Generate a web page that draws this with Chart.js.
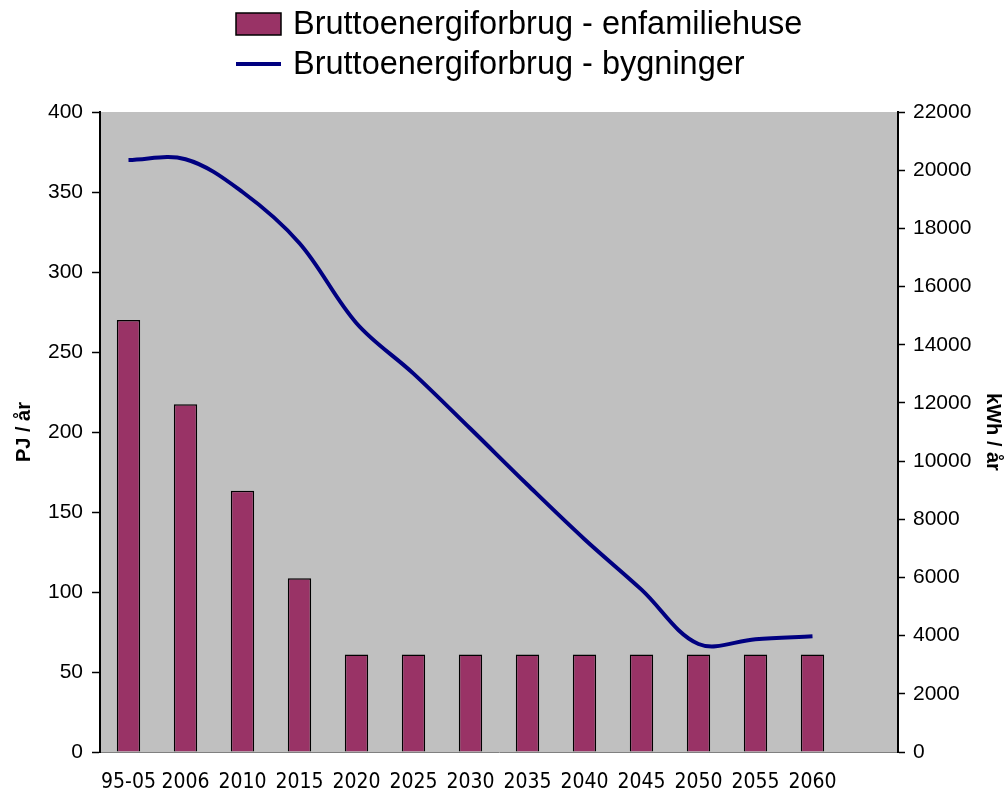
<!DOCTYPE html>
<html>
<head>
<meta charset="utf-8">
<script src="https://cdn.jsdelivr.net/npm/chart.js@4/dist/chart.umd.min.js"></script>
<style>
  html, body { margin: 0; padding: 0; background: #fff; }
  #wrap { width: 1008px; height: 798px; }
</style>
</head>
<body>
<div id="wrap"><canvas id="energyChart" width="1008" height="798"></canvas></div>
<script>
const years = ['95-05', '2006', '2010', '2015', '2020', '2025', '2030', '2035', '2040', '2045', '2050', '2055', '2060', ''];
// kWh / år (right axis)
const enfamiliehuse = [14850, 11950, 8980, 5970, 3350, 3350, 3350, 3350, 3350, 3350, 3350, 3350, 3350, null];
// PJ / år (left axis)
const bygninger = [370, 370.5, 350, 318, 268, 236.5, 202, 167, 133, 101.5, 67.5, 70.5, 72.3, null];
const pjTicks = { min: 0, max: 400, step: 50 };
const kwhTicks = { min: 0, max: 22000, step: 2000 };

const FONT = "'Liberation Sans', Arial, sans-serif";
const NARROW = "'DejaVu Sans Condensed', 'Liberation Sans', sans-serif";
const BAR_COLOR = '#993366';
const LINE_COLOR = '#000080';

// grey plot area like the old Excel chart
const plotBackground = {
    id: 'plotBackground',
    beforeDraw(chart) {
        const a = chart.chartArea;
        const ctx = chart.ctx;
        ctx.save();
        ctx.fillStyle = '#c0c0c0';
        ctx.fillRect(a.left, a.top, a.right - a.left, a.bottom - a.top);
        ctx.restore();
    }
};

// two-row legend, left aligned inside a centred block
const stackedLegend = {
    id: 'stackedLegend',
    afterDraw(chart) {
        const ctx = chart.ctx;
        const sets = chart.data.datasets;
        const x = 236, textX = 293;
        ctx.save();
        ctx.font = '32.5px ' + FONT;
        ctx.textBaseline = 'middle';

        // bar item
        ctx.fillStyle = BAR_COLOR;
        ctx.fillRect(x, 13, 45, 22);
        ctx.strokeStyle = '#000';
        ctx.lineWidth = 1.5;
        ctx.strokeRect(x, 13, 45, 22);
        ctx.fillStyle = '#000';
        ctx.fillText(sets[1].label, textX, 25);

        // line item
        ctx.strokeStyle = LINE_COLOR;
        ctx.lineWidth = 4;
        ctx.beginPath();
        ctx.moveTo(x, 64);
        ctx.lineTo(x + 45, 64);
        ctx.stroke();
        ctx.fillText(sets[0].label, textX, 65);
        ctx.restore();
    }
};

const ctx = document.getElementById('energyChart').getContext('2d');

const energyChart = new Chart(ctx, {
    type: 'bar',
    data: {
        labels: years,
        datasets: [
            {
                type: 'line',
                label: 'Bruttoenergiforbrug - bygninger',
                data: bygninger,
                yAxisID: 'y',
                borderColor: LINE_COLOR,
                borderWidth: 4,
                pointRadius: 0,
                tension: 0.35,
                fill: false,
                order: 0
            },
            {
                type: 'bar',
                label: 'Bruttoenergiforbrug - enfamiliehuse',
                data: enfamiliehuse,
                yAxisID: 'y1',
                backgroundColor: BAR_COLOR,
                borderColor: '#000',
                borderWidth: 1.5,
                categoryPercentage: 1,
                barPercentage: 0.41,
                order: 1
            }
        ]
    },
    options: {
        responsive: false,
        animation: false,
        layout: { padding: { top: 112, left: 0, right: 0, bottom: 0 } },
        plugins: {
            legend: { display: false },
            tooltip: { enabled: false }
        },
        scales: {
            x: {
                grid: { display: false },
                border: { color: '#808080', width: 1 },
                ticks: {
                    color: '#000',
                    font: { family: NARROW, size: 21 },
                    padding: 10,
                    autoSkip: false,
                    maxRotation: 0
                },
                afterFit(scale) { scale.height = 46; }
            },
            y: {
                position: 'left',
                min: pjTicks.min,
                max: pjTicks.max,
                grid: { drawOnChartArea: false, tickLength: 8, tickColor: '#000', tickWidth: 1.5 },
                border: { color: '#000', width: 2 },
                ticks: {
                    stepSize: pjTicks.step,
                    color: '#000',
                    padding: 9,
                    font: { family: FONT, size: 21 }
                },
                title: {
                    display: true,
                    text: 'PJ / år',
                    color: '#000',
                    font: { family: FONT, size: 20, weight: 'bold' },
                    padding: { top: 12, bottom: 0 }
                },
                afterFit(scale) { scale.width = 100; }
            },
            y1: {
                position: 'right',
                min: kwhTicks.min,
                max: kwhTicks.max,
                grid: { drawOnChartArea: false, tickLength: 7, tickColor: '#000', tickWidth: 1.5 },
                border: { color: '#000', width: 2 },
                ticks: {
                    stepSize: kwhTicks.step,
                    color: '#000',
                    padding: 8,
                    font: { family: FONT, size: 21 },
                    callback: (v) => String(v)
                },
                title: {
                    display: true,
                    text: 'kWh / år',
                    color: '#000',
                    font: { family: FONT, size: 20, weight: 'bold' },
                    padding: { top: 3, bottom: 0 }
                },
                afterFit(scale) { scale.width = 110; }
            }
        }
    },
    plugins: [plotBackground, stackedLegend]
});
</script>
</body>
</html>
